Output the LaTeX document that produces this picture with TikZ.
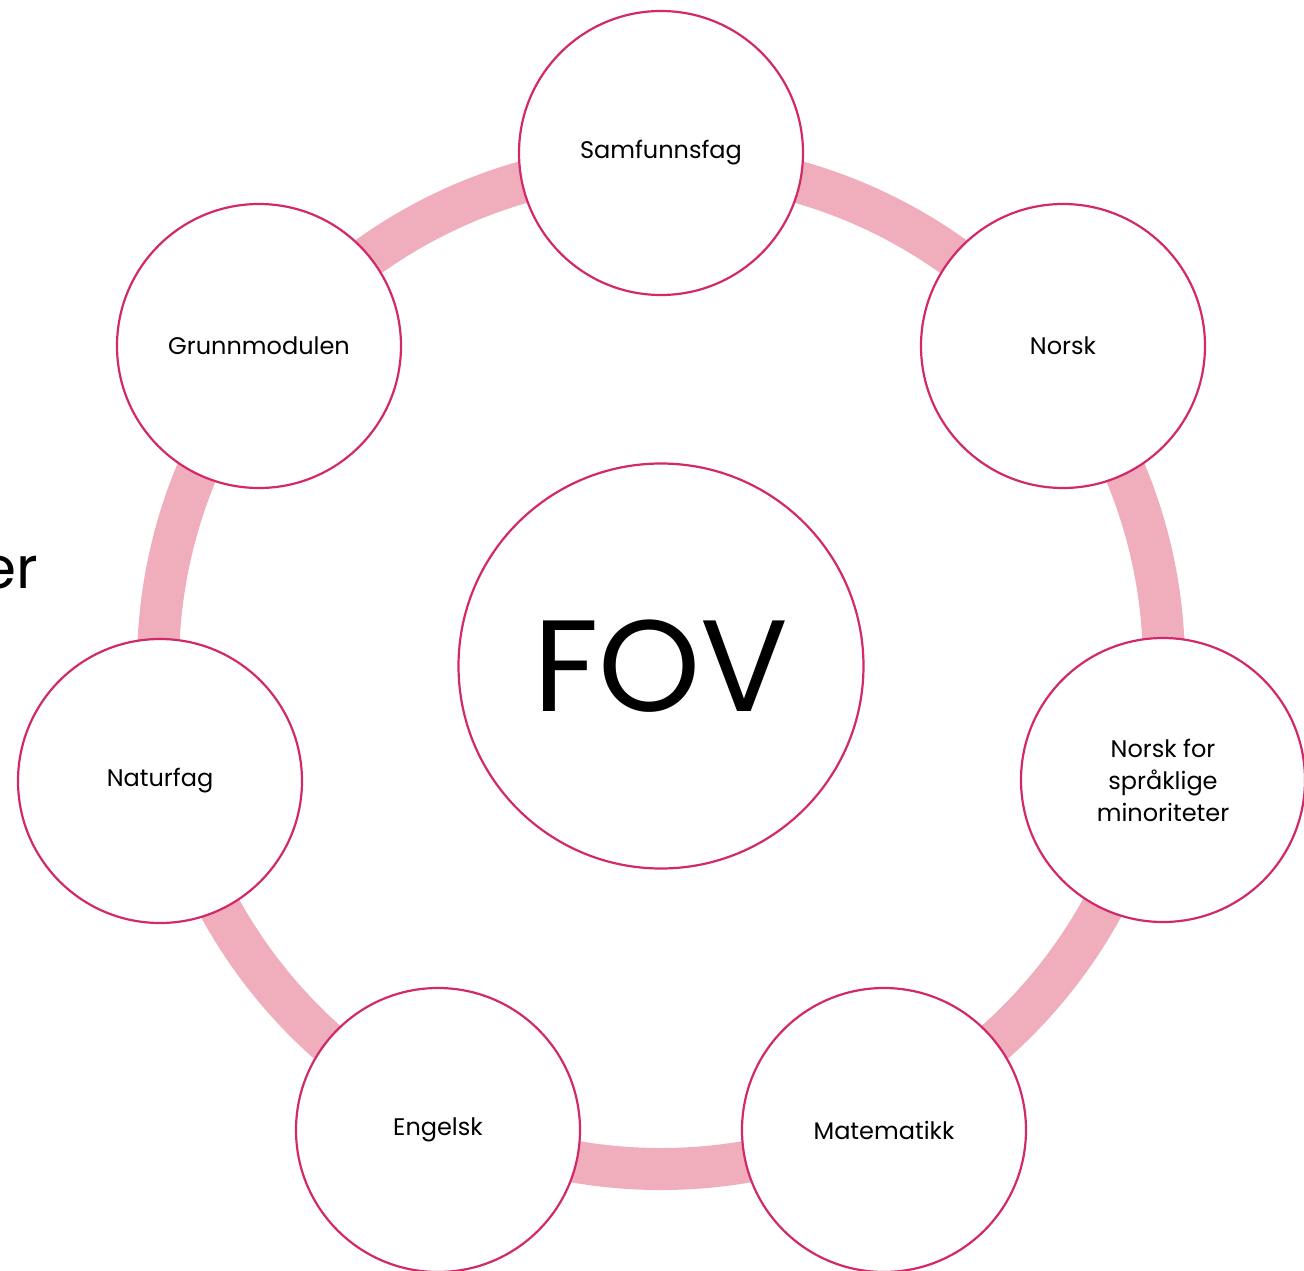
\documentclass[tikz,border=0pt]{standalone}
\usepackage{fontspec}
\setmainfont{Poppins}
\usepackage{tikz}

\definecolor{rim}{HTML}{D2296A}
\definecolor{band}{HTML}{F0ADBB}

\begin{document}
\begin{tikzpicture}[x=1pt, y=-1pt,
        subj/.style={circle, draw=rim, line width=2.2pt, fill=white, minimum size=284pt, inner sep=0pt, align=center, font=\fontsize{24}{32}\selectfont}]
        \useasboundingbox (0,0) rectangle (1304,1271);

        % ring behind the subjects
        \coordinate (mid) at (661,666);
        \draw[band, line width=42pt] (mid) circle (503);

        \node[circle, draw=rim, line width=2.2pt, fill=white, minimum size=405pt, inner sep=0pt, font=\fontsize{130}{132}\selectfont] (fov) at (mid) {FOV};

        \node[subj] (samf) at (661,153) {Samfunnsfag};
        \node[subj] (norsk) at (1063,346) {Norsk};
        \node[subj] (minor) at (1163,780) {Norsk for\\språklige\\minoriteter};
        \node[subj] (mat) at (884,1130) {Matematikk};
        \node[subj] (eng) at (438,1130) {Engelsk};
        \node[subj] (nat) at (160,781) {Naturfag};
        \node[subj] (grunn) at (259,346) {Grunnmodulen};

        \node[anchor=base east, inner sep=0pt, font=\fontsize{58}{60}\selectfont] (rest) at (38,588) {er};
    \end{tikzpicture}
\end{document}
